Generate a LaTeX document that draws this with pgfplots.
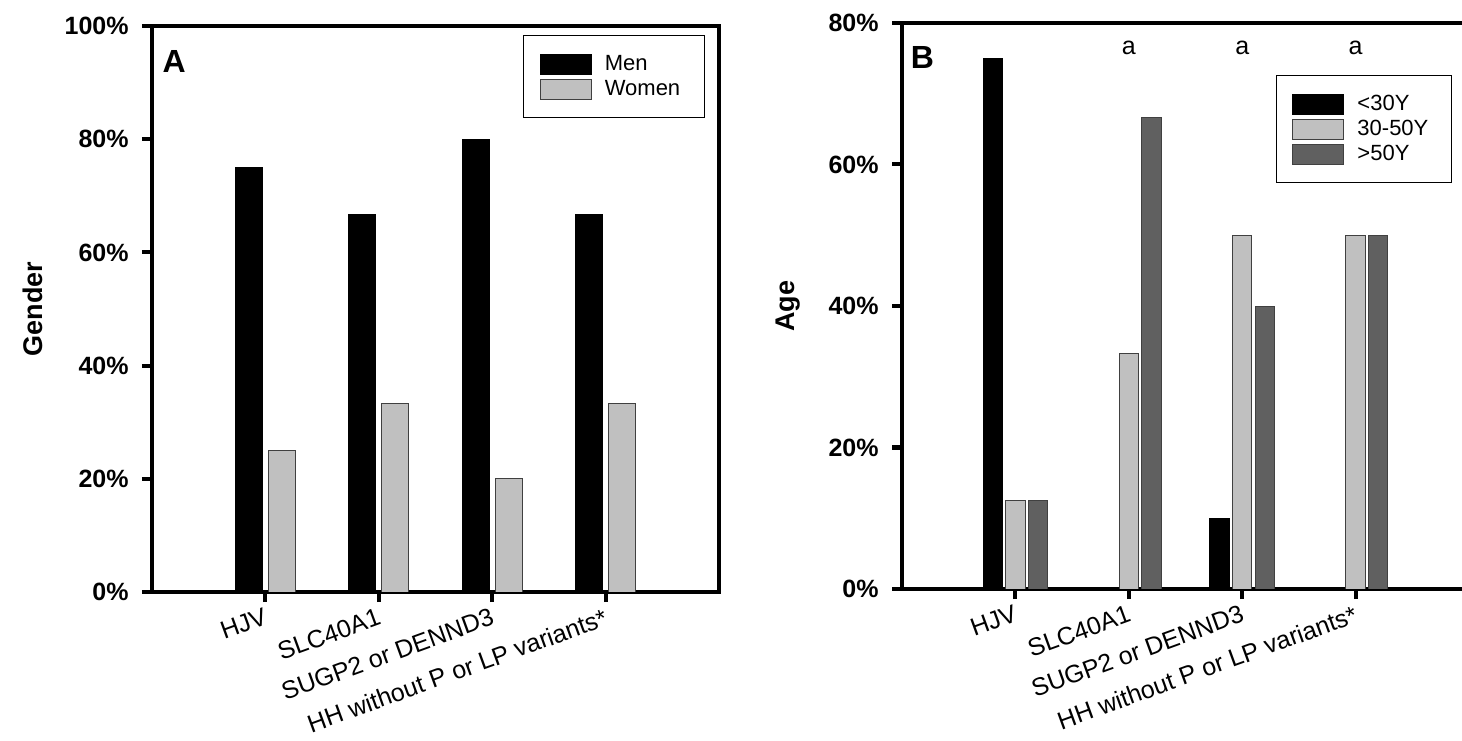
\documentclass[border=0pt]{standalone}
\usepackage{pgfplots}
\pgfplotsset{compat=1.18}
\usepackage{fontspec}
\setmainfont{Liberation Sans}
\definecolor{lgray}{HTML}{C0C0C0}
\definecolor{dgray}{HTML}{606060}
\definecolor{edgec}{HTML}{404040}

\pgfplotsset{
  panel/.style={
    scale only axis,
    width=283.5bp, height=283bp,
    axis line style={line width=2.2bp},
    ybar,
    xmin=-1, xmax=4,
    xtick={0,1,2,3},
    xticklabels={HJV,SLC40A1,SUGP2 or DENND3,HH without P or LP variants*},
    xticklabel style={rotate=20, anchor=north east, inner sep=2bp,
      font=\fontsize{12.5bp}{14bp}\selectfont},
    yticklabel style={inner sep=6.5bp, font=\bfseries\fontsize{12.5bp}{14bp}\selectfont},
    tick align=outside, xtick pos=bottom, ytick pos=left,
    major tick length=5bp,
    tick style={line width=2bp, black},
    ymin=0,
    /pgf/number format/assume math mode=true,
    every axis y label/.style={rotate=90, anchor=center,
      font=\bfseries\fontsize{13.5bp}{15bp}\selectfont},
    legend image code/.code={\draw[#1] (0bp,-5bp) rectangle (25.5bp,5bp);},
    legend cell align=left,
    legend style={draw=black, line width=0.6bp, fill=white,
      font=\fontsize{11bp}{13bp}\selectfont,
      inner xsep=8bp, inner ysep=8bp, row sep=0pt, column sep=6.5bp,
      nodes={inner sep=0pt, minimum height=12.5bp, anchor=west}},
  },
}

\begin{document}
\begin{tikzpicture}
\path[use as bounding box] (0,0) rectangle (731bp,370.5bp);

% Panel A
\begin{axis}[panel, at={(76bp,74.5bp)}, anchor=south west,
  ymax=100,
  ytick={0,20,40,60,80,100},
  yticklabels={0\%,20\%,40\%,60\%,80\%,100\%},
  ylabel={Gender},
  ylabel style={at={(axis description cs:-0.21,0.5)}},
  legend style={at={(axis description cs:0.975,0.984)}, anchor=north east},
]
\addplot[fill=black, draw=black, line width=0.5bp, bar width=0.24, bar shift=-0.145]
  coordinates {(0,75) (1,66.7) (2,80) (3,66.7)};
\addplot[fill=lgray, draw=edgec, line width=0.5bp, bar width=0.24, bar shift=0.145]
  coordinates {(0,25) (1,33.3) (2,20) (3,33.3)};
\legend{Men,Women\hspace*{4bp}}
\node[font=\bfseries\fontsize{16bp}{18bp}\selectfont] at (axis description cs:0.039,0.938) {A};
\end{axis}

% Panel B
\begin{axis}[panel, at={(451bp,76bp)}, anchor=south west,
  ymax=80,
  ytick={0,20,40,60,80},
  yticklabels={0\%,20\%,40\%,60\%,80\%},
  ylabel={Age},
  ylabel style={at={(axis description cs:-0.201,0.5)}},
  legend style={at={(axis description cs:0.970,0.908)}, anchor=north east},
]
\addplot[fill=black, draw=black, line width=0.5bp, bar width=0.17, bar shift=-0.2]
  coordinates {(0,75) (2,10)};
\addplot[fill=lgray, draw=edgec, line width=0.5bp, bar width=0.17, bar shift=0]
  coordinates {(0,12.5) (1,33.3) (2,50) (3,50)};
\addplot[fill=dgray, draw=edgec, line width=0.5bp, bar width=0.17, bar shift=0.2]
  coordinates {(0,12.5) (1,66.7) (2,40) (3,50)};
\legend{<30Y,30-50Y\hspace*{3.5bp},>50Y}
\node[font=\bfseries\fontsize{16bp}{18bp}\selectfont] at (axis description cs:0.036,0.939) {B};
\node[font=\fontsize{12.5bp}{14bp}\selectfont] at (axis cs:1,76.5) {a};
\node[font=\fontsize{12.5bp}{14bp}\selectfont] at (axis cs:2,76.5) {a};
\node[font=\fontsize{12.5bp}{14bp}\selectfont] at (axis cs:3,76.5) {a};
\end{axis}
\end{tikzpicture}
\end{document}
